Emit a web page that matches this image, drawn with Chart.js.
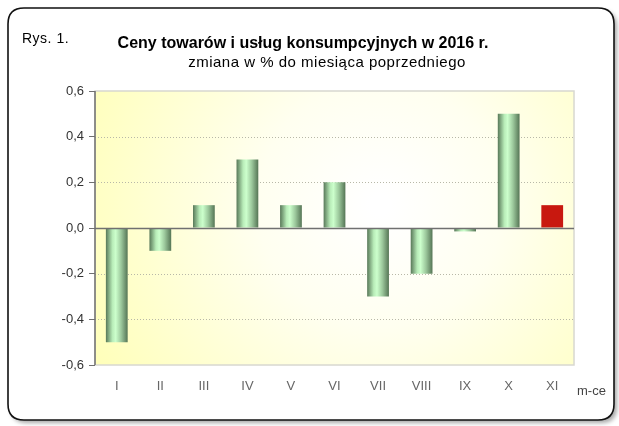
<!DOCTYPE html>
<html>
<head>
<meta charset="utf-8">
<script src="https://cdn.jsdelivr.net/npm/chart.js@4"></script>
<style>
  html, body { margin: 0; padding: 0; background: #fff; }
  #wrap { width: 619px; height: 426px; }
</style>
</head>
<body>
<div id="wrap"><canvas id="chart" width="619" height="426"></canvas></div>
<script>
// dane z wykresu
const miesiace = ["I", "II", "III", "IV", "V", "VI", "VII", "VIII", "IX", "X", "XI"];
const zmiana = [-0.5, -0.1, 0.1, 0.3, 0.1, 0.2, -0.3, -0.2, -0.015, 0.5, 0.1];
const ostatni = 10; // XI wyrozniony na czerwono
const tytul = "Ceny towarów i usług konsumpcyjnych w 2016 r.";
const podtytul = "zmiana w % do miesiąca poprzedniego";
const rys = "Rys. 1.";
const jednostkaX = "m-ce";

const FONT = "'Liberation Sans', Arial, sans-serif";

function roundRect(ctx, x, y, w, h, r) {
  ctx.beginPath();
  ctx.moveTo(x + r, y);
  ctx.lineTo(x + w - r, y);
  ctx.quadraticCurveTo(x + w, y, x + w, y + r);
  ctx.lineTo(x + w, y + h - r);
  ctx.quadraticCurveTo(x + w, y + h, x + w - r, y + h);
  ctx.lineTo(x + r, y + h);
  ctx.quadraticCurveTo(x, y + h, x, y + h - r);
  ctx.lineTo(x, y + r);
  ctx.quadraticCurveTo(x, y, x + r, y);
  ctx.closePath();
}

const tlo = {
  id: "tlo",
  beforeDraw(chart) {
    const ctx = chart.ctx;
    const a = chart.chartArea;
    ctx.save();
    // ramka z cieniem
    ctx.fillStyle = "#fff";
    ctx.fillRect(0, 0, chart.width, chart.height);
    ctx.shadowColor = "rgba(0,0,0,0.35)";
    ctx.shadowBlur = 4;
    ctx.shadowOffsetX = 3;
    ctx.shadowOffsetY = 3;
    roundRect(ctx, 8, 8, 606, 412, 16);
    ctx.fillStyle = "#fff";
    ctx.fill();
    ctx.shadowColor = "transparent";
    ctx.lineWidth = 1.6;
    ctx.strokeStyle = "#111";
    ctx.stroke();

    // tlo obszaru wykresu
    const g = ctx.createRadialGradient(380, 205, 10, 380, 205, 330);
    g.addColorStop(0, "#ffffff");
    g.addColorStop(0.35, "#fffff0");
    g.addColorStop(1, "#ffffb8");
    ctx.fillStyle = g;
    ctx.fillRect(a.left, a.top, a.right - a.left, a.bottom - a.top);
    ctx.strokeStyle = "#d8d8d0";
    ctx.lineWidth = 1.5;
    ctx.strokeRect(a.left, a.top, a.right - a.left, a.bottom - a.top);

    // linie siatki
    const y = chart.scales.y;
    ctx.setLineDash([1, 2]);
    ctx.lineWidth = 1;
    ctx.strokeStyle = "#b8b8a8";
    [-0.4, -0.2, 0.2, 0.4].forEach(v => {
      const py = Math.round(y.getPixelForValue(v)) + 0.5;
      ctx.beginPath();
      ctx.moveTo(a.left, py);
      ctx.lineTo(a.right, py);
      ctx.stroke();
    });
    ctx.setLineDash([]);

    // teksty
    ctx.fillStyle = "#000";
    ctx.textBaseline = "middle";
    ctx.textAlign = "left";
    ctx.font = "14px " + FONT;
    ctx.letterSpacing = "0.5px";
    ctx.fillText(rys, 22, 39);
    ctx.letterSpacing = "0px";
    ctx.textAlign = "center";
    ctx.font = "bold 16px " + FONT;
    ctx.fillText(tytul, 303, 44);
    ctx.font = "15px " + FONT;
    ctx.letterSpacing = "0.5px";
    ctx.fillText(podtytul, 327, 63);
    ctx.letterSpacing = "0px";
    ctx.fillStyle = "#444";
    ctx.font = "13px " + FONT;
    ctx.textAlign = "left";
    ctx.fillText(jednostkaX, 577, 391);
    ctx.restore();
  },
  afterDatasetsDraw(chart) {
    const ctx = chart.ctx;
    const a = chart.chartArea;
    const py = Math.round(chart.scales.y.getPixelForValue(0)) + 0.5;
    ctx.save();
    ctx.strokeStyle = "#707070";
    ctx.lineWidth = 1.5;
    ctx.beginPath();
    ctx.moveTo(a.left, py);
    ctx.lineTo(a.right, py);
    ctx.stroke();
    ctx.beginPath();
    ctx.moveTo(a.left, a.top);
    ctx.lineTo(a.left, a.bottom);
    ctx.stroke();
    ctx.restore();
  }
};

function kolorSlupka(c) {
  if (c.dataIndex === ostatni) return "#c8180f";
  const chart = c.chart;
  const xs = chart.scales.x;
  if (!xs || xs.width === undefined) return "#a8d8a8";
  const cx = xs.getPixelForValue(c.dataIndex);
  const w = (xs.width / miesiace.length) * 0.5;
  const g = chart.ctx.createLinearGradient(cx - w / 2, 0, cx + w / 2, 0);
  g.addColorStop(0, "#587858");
  g.addColorStop(0.3, "#b8ecb8");
  g.addColorStop(0.45, "#ccffcc");
  g.addColorStop(0.7, "#9cc89c");
  g.addColorStop(1, "#557555");
  return g;
}

new Chart(document.getElementById("chart"), {
  type: "bar",
  data: {
    labels: miesiace,
    datasets: [{
      data: zmiana,
      backgroundColor: kolorSlupka,
      borderWidth: 0,
      barPercentage: 0.5,
      categoryPercentage: 1.0
    }]
  },
  options: {
    responsive: false,
    animation: false,
    layout: { padding: { top: 91, right: 45, left: 0, bottom: 0 } },
    plugins: { legend: { display: false }, tooltip: { enabled: false } },
    scales: {
      y: {
        min: -0.6,
        max: 0.6,
        afterFit(s) { s.width = 95; },
        ticks: {
          stepSize: 0.2,
          padding: 5,
          color: "#333",
          font: { size: 13, family: FONT },
          callback: v => v.toFixed(1).replace(".", ",")
        },
        grid: { drawOnChartArea: false, tickLength: 6, tickColor: "#707070" },
        border: { display: false }
      },
      x: {
        afterFit(s) { s.height = 61; },
        ticks: { color: "#666", padding: 6, font: { size: 13, family: FONT } },
        grid: { display: false },
        border: { display: false }
      }
    }
  },
  plugins: [tlo]
});
</script>
</body>
</html>
